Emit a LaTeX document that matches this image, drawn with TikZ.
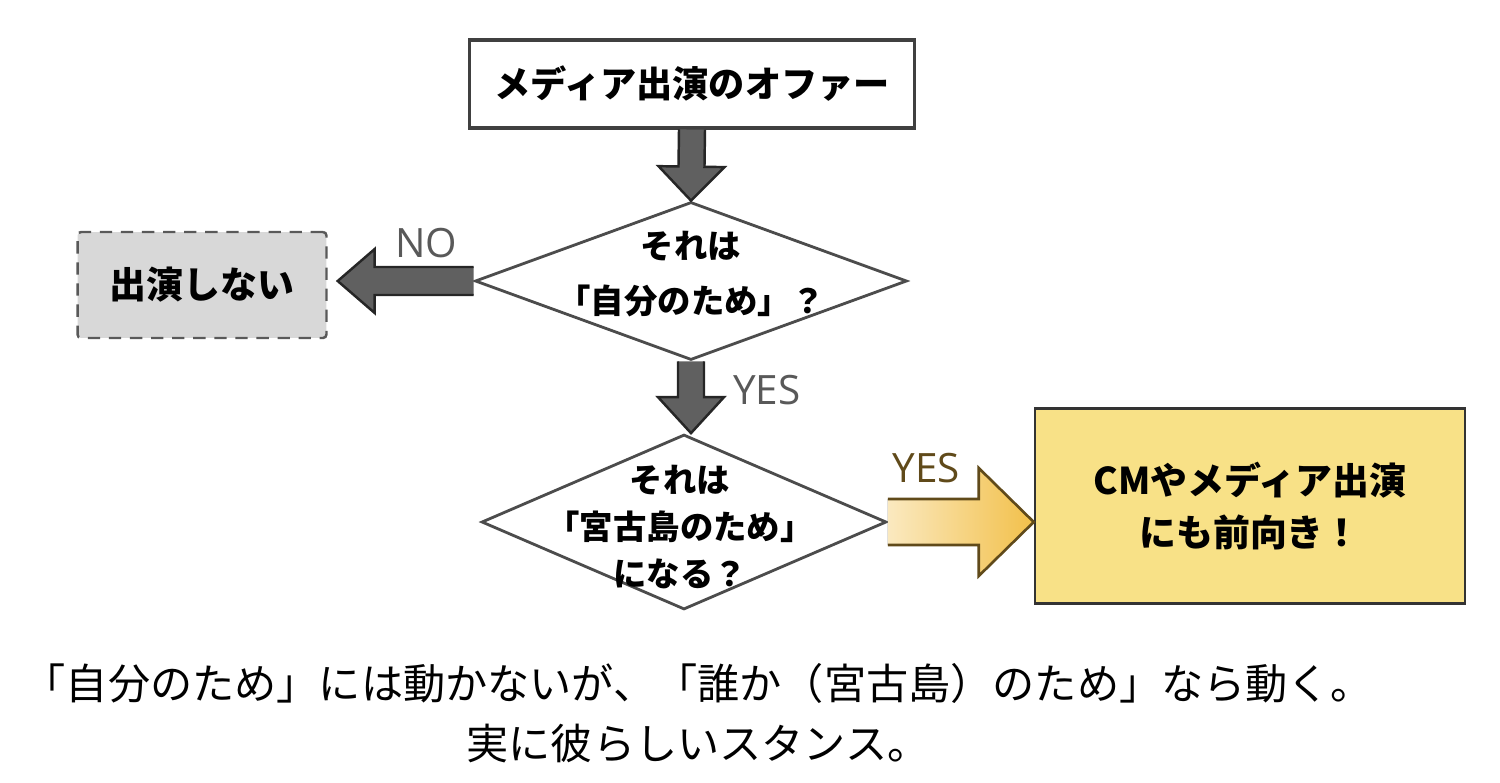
\documentclass[tikz,border=0pt]{standalone}
\usepackage{fontspec}
\setmainfont{Noto Sans CJK JP}
\newfontfamily\handfont{Open Sans}
\usetikzlibrary{shapes.geometric,calc,positioning}
\definecolor{arrgray}{RGB}{96,96,96}
\definecolor{boxgray}{RGB}{216,216,216}
\definecolor{notey}{RGB}{248,225,135}
\definecolor{arry}{RGB}{242,192,74}
\definecolor{arrbrown}{RGB}{96,74,26}
\tikzset{
  stepbox/.style={draw=black!75,line width=1.8pt,fill=white,minimum width=8.9cm,
                  minimum height=1.76cm,font=\bfseries\fontsize{20.6}{24}\selectfont},
  quest/.style={diamond,draw=black!70,line width=1.6pt,fill=white,inner sep=0pt},
  qtext/.style={align=center,font=\bfseries\fontsize{19}{#1}\selectfont},
  qtext/.default=31,
  skipbox/.style={draw=black!65,dashed,dash pattern=on 7pt off 5pt,line width=1.4pt,
                  fill=boxgray,rounded corners=2pt,minimum width=4.98cm,minimum height=2.12cm,
                  font=\bfseries\fontsize{21}{24}\selectfont},
  goalbox/.style={draw=black!80,line width=1.5pt,fill=notey,minimum width=8.6cm,
                  minimum height=3.9cm,align=center,font=\bfseries\fontsize{21}{29.5}\selectfont},
  lbl/.style={font=\handfont\fontsize{23}{24}\selectfont,text=black!65},
  darrfill/.style={fill=arrgray},
  darrline/.style={draw=black!85,line width=1.4pt,line join=miter},
  yarrfill/.style={left color=arry!35,right color=arry},
  yarrline/.style={draw=arrbrown,line width=1.5pt,line join=miter},
}
% fat arrow: #1 style base, #2 tail, #3 tip, #4 shaft half width, #5 head half width, #6 head length
\newcommand{\fatarrow}[6]{%
  \path ($(#3)!#6!(#2)$) coordinate (fa-base);
  \fill[#1fill] ($(#2)!#4!90:(#3)$) -- ($(fa-base)!#4!90:(#3)$) -- ($(fa-base)!#5!90:(#3)$)
     -- (#3) -- ($(fa-base)!#5!-90:(#3)$) -- ($(fa-base)!#4!-90:(#3)$) -- ($(#2)!#4!-90:(#3)$) -- cycle;
  \draw[#1line] ($(#2)!#4!90:(#3)$) -- ($(fa-base)!#4!90:(#3)$) -- ($(fa-base)!#5!90:(#3)$)
     -- (#3) -- ($(fa-base)!#5!-90:(#3)$) -- ($(fa-base)!#4!-90:(#3)$) -- ($(#2)!#4!-90:(#3)$);
}

\begin{document}
\begin{tikzpicture}[x=0.02cm,y=-0.02cm]
  \useasboundingbox (0,0) rectangle (1500,782);
  % --- offer ---
  \node[stepbox] (offer) at (692,84) {メディア出演のオファー};
  % --- first question ---
  \node[quest,minimum width=8.64cm,minimum height=3.16cm] (q1) at (691,281) {};
  \node[qtext] (q1txt) at (691,274) {それは\\「自分のため」？};
  % --- no: skip ---
  \node[skipbox] (skip) at (202,285) {出演しない};
  \coordinate (noTip) at ($(skip.east |- q1.west)+(10,0)$);
  % --- second question ---
  \node[quest,minimum width=8.1cm,minimum height=3.5cm] (q2) at (684,522) {};
  \node[qtext=27] (q2txt) at (680,527) {それは\\「宮古島のため」\\になる？};
  \coordinate (q2top) at (q1.south |- q2.north);
  % --- yes: goal ---
  \node[goalbox] (goal) at (1250,506) {CMやメディア出演\\にも前向き！};
  \coordinate (yesTip) at (goal.west |- q2.east);
  % arrows
  \fatarrow{darr}{offer.south}{q1.north}{0.26cm}{0.66cm}{0.68cm}
  \fatarrow{darr}{q1.west}{noTip}{0.28cm}{0.64cm}{0.74cm}
  \fatarrow{darr}{q1.south}{q2top}{0.26cm}{0.66cm}{0.72cm}
  \fatarrow{yarr}{q2.east}{yesTip}{0.46cm}{1.08cm}{1.1cm}
  % labels
  \node[lbl] (noLbl) at (426,243) {NO};
  \node[lbl] (yesLbl) at (767,390) {YES};
  \node[lbl,text=arrbrown] (yesGoLbl) at (926,468) {YES};
  % caption
  \node[align=center,font=\fontsize{24}{34}\selectfont] (caption) at (698,713)
       {「自分のため」には動かないが、「誰か（宮古島）のため」なら動く。\\実に彼らしいスタンス。};
\end{tikzpicture}
\end{document}
